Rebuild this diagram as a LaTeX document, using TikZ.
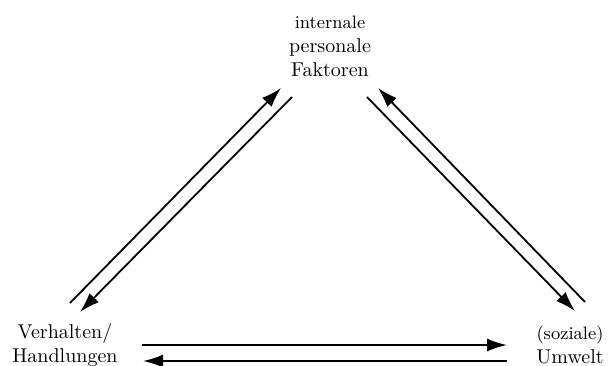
\documentclass[tikz,border=0pt]{standalone}
\usetikzlibrary{arrows.meta}

\begin{document}
\begin{tikzpicture}[x=0.5pt,y=-0.5pt,
relation/.style={-{Latex[length=10pt,width=6.5pt]},line width=0.9pt},
factor/.style={align=center,inner sep=0pt}]
\useasboundingbox (0,0) rectangle (611,365);
% The three factors
\node[factor] at (330,46) (fak) {{\small internale}\\personale\\Faktoren};
\node[factor] at (65,345) (verh) {Verhalten/\\Handlungen};
\node[factor] at (570,345) (umw) {{\small (soziale)}\\Umwelt};

% Left pair
\draw[relation] ([shift={(5,-42)}]verh.center) -- ([shift={(-49,42)}]fak.center);
\draw[relation] ([shift={(-38,51)}]fak.center) -- ([shift={(15,-33)}]verh.center);
% Right pair
\draw[relation] ([shift={(15,-43)}]umw.center) -- ([shift={(48,42)}]fak.center);
\draw[relation] ([shift={(37,51)}]fak.center) -- ([shift={(5,-34)}]umw.center);
% Bottom pair
\draw[relation] ([shift={(77,0)}]verh.center) -- ([shift={(-63,0)}]umw.center);
\draw[relation] ([shift={(-63,16)}]umw.center) -- ([shift={(78,16)}]verh.center);
\end{tikzpicture}
\end{document}
